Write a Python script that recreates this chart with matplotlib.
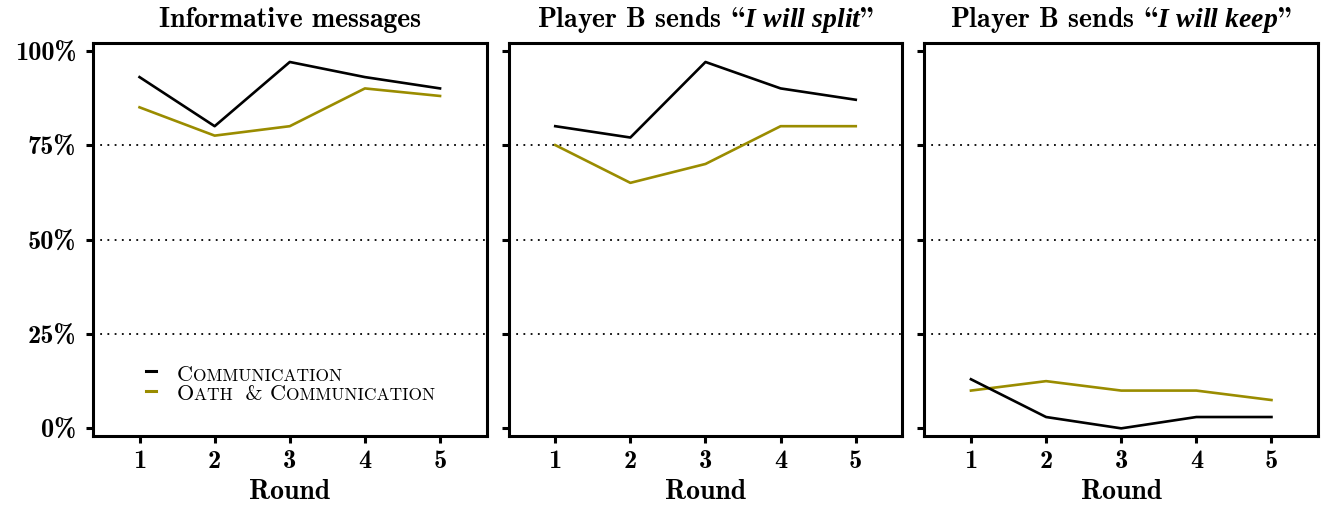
"""Three panels of message shares by round"""
import matplotlib
matplotlib.use("Agg")
import matplotlib.pyplot as plt
from matplotlib.ticker import PercentFormatter
from matplotlib.offsetbox import (AnchoredOffsetbox, DrawingArea, HPacker,
                                  TextArea, VPacker)
from matplotlib.lines import Line2D

rounds = [1, 2, 3, 4, 5]
# cmb10 uses the TeX OT1 layout: "\" is the opening and '"' the closing double quote
titles = [
    "Informative messages",
    "Player B sends $\\backslash\\mathit{I\\ will\\ split}$\"",
    "Player B sends $\\backslash\\mathit{I\\ will\\ keep}$\"",
]
# shares (in %) per panel
comm = [
    [93, 80, 97, 93, 90],
    [80, 77, 97, 90, 87],
    [13, 3, 0, 3, 3],
]
oath = [
    [85, 77.5, 80, 90, 88],
    [75, 65, 70, 80, 80],
    [10, 12.5, 10, 10, 7.5],
]
grid_levels = [25, 50, 75]
y_ticks = [0, 25, 50, 75, 100]
# small caps faked with two sizes
legend_comm = [("C", "OMMUNICATION")]
legend_oath = [("O", "ATH "), (" & C", "OMMUNICATION")]

BLACK = "black"
OLIVE = "#9a8c00"

plt.rcParams["font.family"] = "cmb10"
plt.rcParams["mathtext.fontset"] = "custom"
plt.rcParams["mathtext.rm"] = "cmb10"
plt.rcParams["mathtext.it"] = "Liberation Serif:italic:bold"
plt.rcParams["mathtext.bf"] = "cmb10"
plt.rcParams["axes.unicode_minus"] = False

fig, axes = plt.subplots(1, 3, figsize=(13.24, 5.06), dpi=100)
fig.subplots_adjust(left=0.0702, right=0.9955, top=0.9136, bottom=0.1358,
                    wspace=0.056)

for i, ax in enumerate(axes):
    for lv in grid_levels:
        ax.axhline(lv, color="black", lw=1.3, ls=(0, (1, 3)), zorder=1)
    ax.plot(rounds, comm[i], color=BLACK, lw=1.9, zorder=3)
    ax.plot(rounds, oath[i], color=OLIVE, lw=1.9, zorder=2)
    ax.set_xlim(0.38, 5.62)
    ax.set_ylim(-2.1, 102.1)
    ax.set_xticks(rounds)
    ax.set_yticks(y_ticks)
    ax.yaxis.set_major_formatter(PercentFormatter(decimals=0))
    ax.tick_params(width=2.2, length=5, labelsize=19, pad=7)
    ax.tick_params(axis="x", pad=4)
    if i > 0:
        ax.tick_params(axis="y", labelleft=False)
    for sp in ax.spines.values():
        sp.set_linewidth(2.2)
    ax.set_xlabel("Round", fontsize=20, labelpad=4.5)
    ax.set_title(titles[i], fontsize=20, pad=12)


def legend_row(color, parts):
    da = DrawingArea(23, 10, 0, 0)
    da.add_artist(Line2D([1, 8], [6, 6], color=color, lw=2.2))
    items = [da]
    for big, small in parts:
        items.append(TextArea(big, textprops=dict(family="cmr10", size=16)))
        items.append(TextArea(small, textprops=dict(family="cmr10", size=12.5)))
    return HPacker(children=items, align="baseline", pad=0, sep=0)


row1 = legend_row(BLACK, legend_comm)
row2 = legend_row(OLIVE, legend_oath)
box = VPacker(children=[row1, row2], align="left", pad=0, sep=0)
anchored = AnchoredOffsetbox(loc="lower left", child=box, frameon=False,
                             bbox_to_anchor=(0.117, 0.07),
                             bbox_transform=axes[0].transAxes, borderpad=0)
axes[0].add_artist(anchored)

fig.savefig("out.png", dpi=100)
